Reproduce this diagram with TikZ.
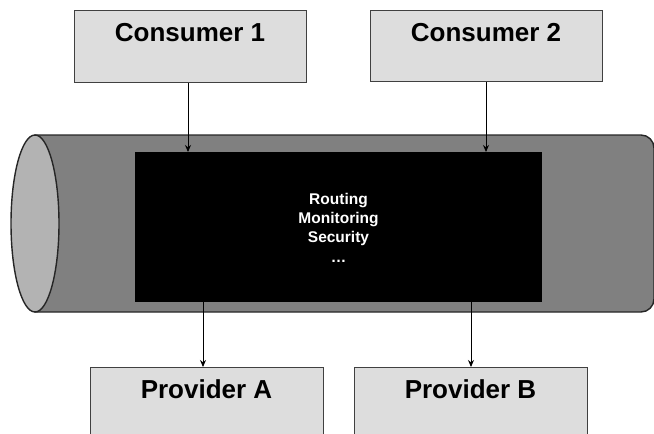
\documentclass[tikz,border=0pt]{standalone}
\usepackage{fontspec}
\setmainfont{Liberation Sans}
\usetikzlibrary{arrows.meta}
\definecolor{boxfill}{HTML}{DDDDDD}
\definecolor{boxline}{HTML}{404040}
\definecolor{tubebody}{HTML}{808080}
\definecolor{tubeend}{HTML}{B3B3B3}
\definecolor{tubeline}{HTML}{262626}
\tikzset{
  partybox/.style={draw=boxline, line width=1.4pt, fill=boxfill, rectangle,
    inner sep=0pt, anchor=north west},
  partytitle/.style={font=\bfseries\fontsize{26}{30}\selectfont, inner sep=0pt, anchor=base},
  corebox/.style={fill=black, draw=none, rectangle, inner sep=0pt, anchor=north west},
  coretext/.style={text=white, font=\bfseries\fontsize{15.5}{19.4}\selectfont,
    align=center, inner sep=0pt},
  flow/.style={-{Stealth[length=7pt,width=6pt]}, line width=0.9pt, black},
}
\begin{document}
\begin{tikzpicture}[x=1pt, y=-1pt]
  \useasboundingbox (0,0) rectangle (654,434);
  \clip (0,0) rectangle (654,434);

  % the bus drawn as a cylinder lying on its side
  \draw[tubeline, line width=1.4pt, fill=tubebody]
    (35,312) -- (35,135) [rounded corners=13] -- (654,135) -- (654,312)
    -- (400,312) [sharp corners] -- (35,312) -- cycle;
  \draw[tubeline, line width=1.4pt, fill=tubeend]
    (35,223.5) ellipse[x radius=24, y radius=88.5];

  % services core
  \node[corebox, minimum width=407, minimum height=150] (core) at (135,152) {};
  \node[coretext] (coretxt) at (338.5,227.5) {Routing\\Monitoring\\Security\\\dots};

  % consumers
  \node[partybox, minimum width=232, minimum height=72] (c1) at (74,10) {};
  \node[partytitle] (c1t) at (190,41.7) {Consumer 1};
  \node[partybox, minimum width=232, minimum height=71] (c2) at (370,10) {};
  \node[partytitle] (c2t) at (486,41.7) {Consumer 2};

  % providers
  \node[partybox, minimum width=233, minimum height=90] (pa) at (90,367) {};
  \node[partytitle] (pat) at (206.5,398) {Provider A};
  \node[partybox, minimum width=233, minimum height=90] (pb) at (354,367) {};
  \node[partytitle] (pbt) at (470.5,398) {Provider B};

  % connector columns
  \coordinate (x1) at (188,0);
  \coordinate (x2) at (486,0);
  \coordinate (x3) at (203,0);
  \coordinate (x4) at (471,0);

  \draw[flow] (c1.south -| x1) -- (core.north -| x1);
  \draw[flow] (c2.south -| x2) -- (core.north -| x2);
  \draw[flow] (core.south -| x3) -- (pa.north -| x3);
  \draw[flow] (core.south -| x4) -- (pb.north -| x4);
\end{tikzpicture}
\end{document}
